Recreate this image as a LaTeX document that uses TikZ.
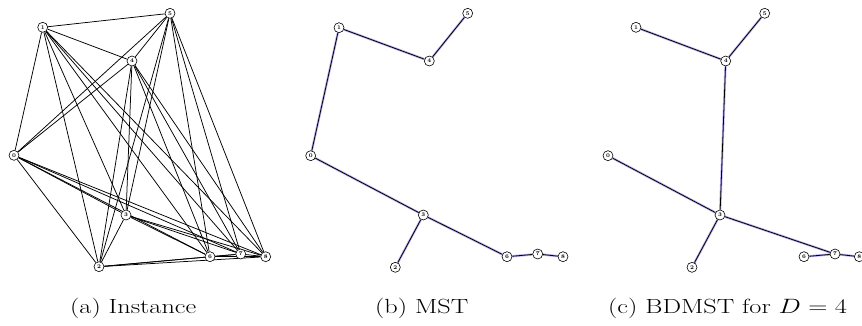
\documentclass[tikz,border=0pt]{standalone}
\usepackage{amsmath}
\usetikzlibrary{backgrounds}
\definecolor{halocol}{RGB}{186,176,244}
\begin{document}
\begin{tikzpicture}[x=1pt,y=-1pt,
  vtx/.style={circle,draw=black,fill=white,line width=0.6pt,minimum size=10pt,inner sep=0pt,font=\fontsize{5.6}{6}\selectfont\bfseries},
  inst/.style={draw=black,line width=0.75pt},
  tedge/.style={draw=black,line width=0.8pt,preaction={draw=halocol,line width=2.3pt}},
  captxt/.style={font=\fontsize{20.5}{24}\selectfont,anchor=base west,inner sep=0pt}]
\useasboundingbox (0,0) rectangle (862,325);
% panel (a) vertices
\node[vtx] (a0) at (14,155.3) {0};
\node[vtx] (a1) at (42.7,27.3) {1};
\node[vtx] (a2) at (99,266.7) {2};
\node[vtx] (a3) at (126,215) {3};
\node[vtx] (a4) at (132,61) {4};
\node[vtx] (a5) at (170,13.3) {5};
\node[vtx] (a6) at (210,256.7) {6};
\node[vtx] (a7) at (240.7,254) {7};
\node[vtx] (a8) at (265.7,256.7) {8};
% panel (b) vertices
\node[vtx] (b0) at (310.7,155.7) {0};
\node[vtx] (b1) at (339,27.7) {1};
\node[vtx] (b2) at (395.3,267.3) {2};
\node[vtx] (b3) at (423.3,215) {3};
\node[vtx] (b4) at (429.3,61) {4};
\node[vtx] (b5) at (467.7,13.3) {5};
\node[vtx] (b6) at (507,256.7) {6};
\node[vtx] (b7) at (537.7,254) {7};
\node[vtx] (b8) at (563,256.7) {8};
% panel (c) vertices
\node[vtx] (c0) at (608,155.7) {0};
\node[vtx] (c1) at (636,27.3) {1};
\node[vtx] (c2) at (692,267.3) {2};
\node[vtx] (c3) at (720,215) {3};
\node[vtx] (c4) at (725.7,61) {4};
\node[vtx] (c5) at (764.7,13.3) {5};
\node[vtx] (c6) at (804,256.7) {6};
\node[vtx] (c7) at (835,254) {7};
\node[vtx] (c8) at (859.3,256.7) {8};
\begin{scope}[on background layer]
% complete graph in (a)
\foreach \i in {0,...,7}{
  \pgfmathtruncatemacro{\s}{\i+1}
  \foreach \j in {\s,...,8}{
    \draw[inst] (a\i) -- (a\j);
  }
}
% MST (b)
\foreach \i/\j in {1/0,1/4,4/5,0/3,3/2,3/6,6/7,7/8}{
  \draw[tedge] (b\i) -- (b\j);
}
% BDMST (c)
\foreach \i/\j in {1/4,4/5,4/3,0/3,3/2,3/7,6/7,7/8}{
  \draw[tedge] (c\i) -- (c\j);
}
\end{scope}
% captions
\node[captxt] (capa) at (70,313.5) {\scalebox{1.28}[1]{(a) Instance}};
\node[captxt] (capb) at (375,313.5) {\scalebox{1.28}[1]{(b) MST}};
\node[captxt] (capc) at (608,313.5) {\scalebox{1.28}[1]{(c) BDMST for $D=4$}};
\end{tikzpicture}
\end{document}
